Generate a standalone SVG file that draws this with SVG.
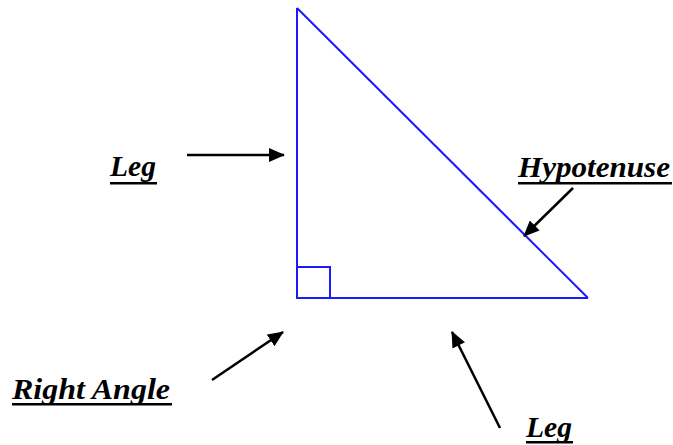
<svg xmlns="http://www.w3.org/2000/svg" width="673" height="445" viewBox="0 0 673 445">
<style>
.lbl{font-family:"Liberation Serif","Times New Roman",serif;font-weight:bold;font-style:italic;font-size:30px;fill:#000}
.ul{fill:#000}
.arr{stroke:#000;stroke-width:2.5;fill:none;marker-end:url(#ah)}
.tri{stroke:#1a1aff;fill:none;stroke-width:2}
</style>
<defs>
<marker id="ah" viewBox="0 0 16 14" refX="15" refY="7" markerWidth="16" markerHeight="14" markerUnits="userSpaceOnUse" orient="auto">
<path d="M0,0 L16,7 L0,14 z" fill="#000"/>
</marker>
</defs>
<rect width="673" height="445" fill="#fff"/>
<g id="triangle">
<path class="tri" d="M297,8 L297,298 L588,298"/>
<line class="tri" x1="297" y1="8" x2="588" y2="298" stroke-width="1.6"/>
<rect class="tri" x="297" y="267" width="33" height="31"/>
</g>
<g id="label-leg-left">
<text class="lbl" x="110" y="176" textLength="46" lengthAdjust="spacingAndGlyphs">Leg</text>
<rect class="ul" x="110" y="182" width="47" height="2.5"/>
</g>
<g id="label-hypotenuse">
<text class="lbl" x="518" y="177" textLength="152" lengthAdjust="spacingAndGlyphs">Hypotenuse</text>
<rect class="ul" x="518" y="182" width="154" height="2.5"/>
</g>
<g id="label-right-angle">
<text class="lbl" x="12" y="399" textLength="158" lengthAdjust="spacingAndGlyphs">Right Angle</text>
<rect class="ul" x="12" y="403" width="160" height="2.5"/>
</g>
<g id="label-leg-bottom">
<text class="lbl" x="526" y="437" textLength="46" lengthAdjust="spacingAndGlyphs">Leg</text>
<rect class="ul" x="526" y="441" width="47" height="2.5"/>
</g>
<g id="connectors">
<line class="arr" x1="187" y1="155" x2="284" y2="155"/>
<line class="arr" x1="573" y1="188" x2="524" y2="236"/>
<line class="arr" x1="212" y1="380" x2="283" y2="332"/>
<line class="arr" x1="500" y1="428" x2="452" y2="332"/>
</g>
</svg>
